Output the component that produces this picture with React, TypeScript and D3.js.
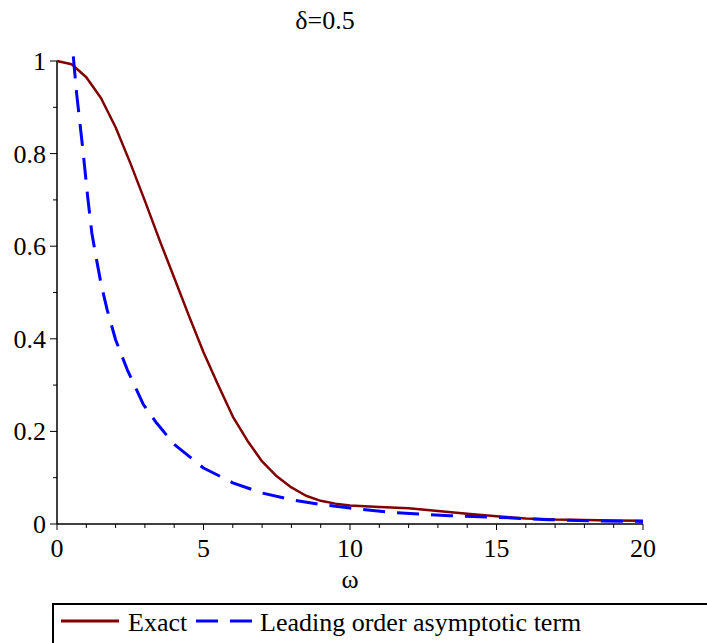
import React from "react";
import * as d3 from "d3";

const exactX = [0, 0.5, 1, 1.5, 2, 2.5, 3, 3.5, 4, 4.5, 5, 5.5, 6, 6.5, 7, 7.5, 8, 8.5, 9, 9.5, 10, 11, 12, 13, 14, 15, 16, 17, 18, 19, 20];
const exactY = [1.0, 0.993, 0.965, 0.92, 0.857, 0.78, 0.698, 0.613, 0.532, 0.45, 0.371, 0.3, 0.232, 0.18, 0.135, 0.103, 0.079, 0.061, 0.05, 0.044, 0.04, 0.0365, 0.034, 0.028, 0.022, 0.0165, 0.012, 0.0095, 0.0085, 0.0078, 0.0072];

const asymX = [0.556, 0.67, 0.88, 1.05, 1.19, 1.37, 1.5, 1.71, 2.0, 2.4, 2.95, 3.4, 4.0, 5, 6, 7, 8, 9, 10, 11.4, 13.4, 15.1, 16.8, 18.5, 20];
const asymY = [1.01, 0.93, 0.81, 0.705, 0.628, 0.564, 0.52, 0.463, 0.398, 0.333, 0.258, 0.218, 0.172, 0.121, 0.089, 0.067, 0.0525, 0.042, 0.0345, 0.025, 0.018, 0.0143, 0.0093, 0.0065, 0.0056];

const xMajor = [0, 5, 10, 15, 20];
const xMinor = d3.range(0, 21, 1);
const yMajor = [0, 0.2, 0.4, 0.6, 0.8, 1];
const yMinor = d3.range(0, 11, 1).map((d) => d / 10);

const title = "δ=0.5";
const xLabel = "ω";
const legendLabels = ["Exact", "Leading order asymptotic term"];

const RED = "#800000";
const BLUE = "#0000ff";
const TXT: React.CSSProperties = { fontFamily: '"Liberation Serif", "DejaVu Serif", serif', fontSize: "26px" };

export default function App() {
  const x = d3.scaleLinear().domain([0, 20]).range([57, 643]);
  const y = d3.scaleLinear().domain([0, 1]).range([524, 61]);
  const line = d3
    .line<[number, number]>()
    .x((d) => x(d[0]))
    .y((d) => y(d[1]));
  const exactPts = exactX.map((v, i) => [v, exactY[i]] as [number, number]);
  const asymPts = asymX.map((v, i) => [v, asymY[i]] as [number, number]);

  return (
    <svg
      width={707}
      height={643}
      style={{ position: "absolute", left: 0, top: 0, background: "#fff" }}
    >
      <rect x={0} y={0} width={707} height={643} fill="#fff" />
      <text x={325} y={29} style={TXT} textAnchor="middle" fill="#000">
        {title}
      </text>

      {/* axes */}
      <line x1={x(0)} x2={x(20)} y1={y(0)} y2={y(0)} stroke="#000" strokeWidth={1.5} />
      <line x1={x(0)} x2={x(0)} y1={y(0)} y2={y(1)} stroke="#000" strokeWidth={1.5} />

      {xMinor.map((t) => (
        <line
          key={"xm" + t}
          x1={x(t)}
          x2={x(t)}
          y1={y(0)}
          y2={y(0) + (xMajor.includes(t) ? 6 : 4)}
          stroke="#000"
          strokeWidth={1}
        />
      ))}
      {xMajor.map((t) => (
        <text key={"xl" + t} x={x(t)} y={557} style={TXT} textAnchor="middle" fill="#000">
          {t}
        </text>
      ))}

      {yMinor.map((t, i) => (
        <line
          key={"ym" + i}
          x1={x(0) - (i % 2 === 0 ? 7 : 4)}
          x2={x(0)}
          y1={y(t)}
          y2={y(t)}
          stroke="#000"
          strokeWidth={1}
        />
      ))}
      {yMajor.map((t) => (
        <text key={"yl" + t} x={46} y={y(t) + 9} style={TXT} textAnchor="end" fill="#000">
          {t}
        </text>
      ))}

      <text x={350} y={588} style={TXT} textAnchor="middle" fill="#000">
        {xLabel}
      </text>

      {/* curves */}
      <path d={line(exactPts) || ""} fill="none" stroke={RED} strokeWidth={2.5} strokeLinejoin="round" />
      <path
        d={line(asymPts) || ""}
        fill="none"
        stroke={BLUE}
        strokeWidth={3}
        strokeDasharray="22 12"
        strokeLinejoin="round"
      />

      {/* legend */}
      <rect x={53} y={604} width={700} height={100} fill="none" stroke="#000" strokeWidth={2} />
      <line x1={61} x2={119} y1={621} y2={621} stroke={RED} strokeWidth={3} />
      <text x={128} y={631} style={TXT} fill="#000">
        {legendLabels[0]}
      </text>
      <line x1={196} x2={254} y1={621} y2={621} stroke={BLUE} strokeWidth={3} strokeDasharray="22 12" />
      <text x={260} y={631} style={TXT} fill="#000">
        {legendLabels[1]}
      </text>
    </svg>
  );
}
